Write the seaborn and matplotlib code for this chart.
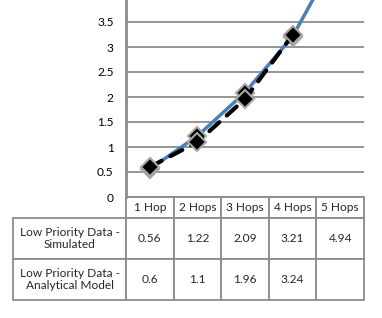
import pandas as pd
import seaborn as sns
import matplotlib.pyplot as plt

# Datos
hops = ['1 Hop', '2 Hops', '3 Hops', '4 Hops', '5 Hops']
simulated = [0.56, 1.22, 2.09, 3.21, 4.94]
analytical = [0.6, 1.1, 1.96, 3.24, None]
row_labels = ['Low Priority Data -\nSimulated', 'Low Priority Data -\nAnalytical Model']

df = pd.DataFrame({'pos': range(len(hops)), 'sim': simulated, 'ana': analytical})

sns.set_theme(style='white')
plt.rcParams['font.family'] = ['Lato', 'DejaVu Sans']
fs = 8.6

W, H = 382, 318
fig = plt.figure(figsize=(W / 100, H / 100), dpi=100)
# área del gráfico en píxeles: x 126-364, y 0-197
ax = fig.add_axes([126 / W, (H - 197) / H, (364 - 126) / W, 197 / H])

grid_c = '#8c8c8c'
sns.lineplot(data=df, x='pos', y='sim', ax=ax, color='#4a7ebb', linewidth=2.5,
             marker='D', markersize=9.5, markerfacecolor='black',
             markeredgecolor='#a6a6a6', markeredgewidth=1.5, zorder=3)
sns.lineplot(data=df.dropna(), x='pos', y='ana', ax=ax, color='black', linewidth=3,
             dashes=(3.2, 2.4), marker='D', markersize=9.5, markerfacecolor='black',
             markeredgecolor='#a6a6a6', markeredgewidth=1.5, zorder=4)
for l in ax.lines:
    l.set_dash_capstyle('round')

ax.set_xlim(-0.5, len(hops) - 0.5)
ax.set_ylim(0, 3.94)
ax.set_yticks([0, 0.5, 1, 1.5, 2, 2.5, 3, 3.5])
ax.set_yticklabels(['0', '0.5', '1', '1.5', '2', '2.5', '3', '3.5'])
ax.set_xticks([])
ax.set_xlabel('')
ax.set_ylabel('')
ax.tick_params(axis='y', length=0, pad=9, labelsize=fs, labelcolor='black')
ax.grid(axis='y', color=grid_c, lw=1.3)
for s in ['top', 'right', 'bottom']:
    ax.spines[s].set_visible(False)
ax.spines['left'].set_color(grid_c)
ax.spines['left'].set_linewidth(2)
# etiqueta "4" cortada en el borde superior, como en la imagen
ax.annotate('4', xy=(0, 4), xycoords=('axes fraction', 'data'), xytext=(-9, 0),
            textcoords='offset points', ha='right', va='center', fontsize=fs,
            annotation_clip=False)

# tabla de datos debajo del gráfico
fmt = lambda v: '' if v is None else f'{v:g}'
cells = [[row_labels[0]] + [fmt(v) for v in simulated],
         [row_labels[1]] + [fmt(v) for v in analytical]]
lab_w = 113 / 238
col_w = 1 / len(hops)
tbl = ax.table(cellText=cells, colLabels=[''] + hops,
               colWidths=[lab_w] + [col_w] * len(hops), cellLoc='center',
               bbox=[-lab_w, -103 / 197, 1 + lab_w, 103 / 197])
tbl.auto_set_font_size(False)
tbl.set_fontsize(fs)
for (r, c), cell in tbl.get_celld().items():
    cell.set_edgecolor(grid_c)
    cell.set_linewidth(1.3)
    cell.set_height(21 if r == 0 else 41)
    if r == 0 and c == 0:
        cell.visible_edges = ''

fig.savefig('out.png', dpi=100)
